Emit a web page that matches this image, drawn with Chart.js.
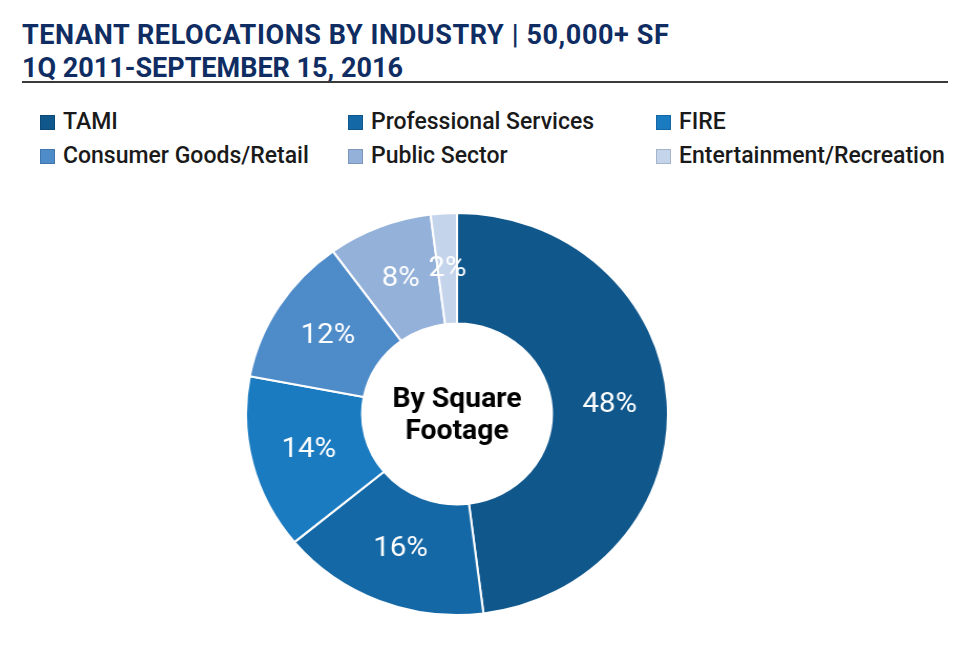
<!DOCTYPE html>
<html>
<head>
<meta charset="utf-8">
<script src="https://cdn.jsdelivr.net/npm/chart.js@4"></script>
<style>
    body { margin: 0; background: #fff; width: 960px; height: 653px; position: relative; overflow: hidden; font-family: Roboto, "Noto Sans", sans-serif; }
    .titulo { position: absolute; left: 22px; color: #0f2d62; font-weight: bold; font-size: 27px; line-height: 30px; white-space: nowrap; }
    .linha { position: absolute; left: 22px; top: 81px; width: 926px; height: 2px; background: #3a3a3a; }
    .item { position: absolute; font-size: 23px; font-weight: 500; color: #1a1a1a; white-space: nowrap; line-height: 23px; }
    .item span { display: inline-block; width: 15px; height: 15px; vertical-align: -1px; margin-right: 8px; box-sizing: border-box; }
</style>
</head>
<body>
<div class="titulo" style="top:20px;letter-spacing:0.6px">TENANT RELOCATIONS BY INDUSTRY | 50,000+ SF</div>
<div class="titulo" style="top:53px">1Q 2011-SEPTEMBER 15, 2016</div>
<div class="linha"></div>
<div id="legenda"></div>
<canvas id="rosca" width="404" height="404" style="position:absolute;left:244.5px;top:212px;width:424px;height:404px"></canvas>

<script>
// dados do grafico
var setores = ['TAMI', 'Professional Services', 'FIRE', 'Consumer Goods/Retail', 'Public Sector', 'Entertainment/Recreation'];
var percentuais = [48, 16, 14, 12, 8, 2];
var cores = ['#10578c', '#1568a6', '#1b7bc1', '#4e8bc9', '#93b1d9', '#c4d4eb'];
var textoCentro = ['By Square', 'Footage'];

// legenda em 3 colunas
var colunas = [40, 348, 656];
var linhas = [110, 144];
var divLegenda = document.getElementById('legenda');
for (var i = 0; i < setores.length; i++) {
    var el = document.createElement('div');
    el.className = 'item';
    el.style.left = colunas[i % 3] + 'px';
    el.style.top = linhas[Math.floor(i / 3)] + 'px';
    el.innerHTML = '<span style="background:' + cores[i] + ';border:1px solid rgba(0,0,0,0.15)"></span>' + setores[i];
    divLegenda.appendChild(el);
}

var rotulos = {
    id: 'rotulos',
    afterDatasetsDraw: function (chart) {
        var ctx = chart.ctx;
        var meta = chart.getDatasetMeta(0);
        ctx.save();
        ctx.fillStyle = '#ffffff';
        ctx.font = '28px Roboto';
        ctx.textAlign = 'center';
        ctx.textBaseline = 'middle';
        meta.data.forEach(function (arco, i) {
            var p = arco.tooltipPosition();
            ctx.fillText(percentuais[i] + '%', p.x, p.y);
        });

        var cx = (chart.chartArea.left + chart.chartArea.right) / 2;
        var cy = (chart.chartArea.top + chart.chartArea.bottom) / 2;
        ctx.fillStyle = '#000000';
        ctx.font = 'bold 27px Roboto';
        ctx.fillText(textoCentro[0], cx, cy - 14);
        ctx.fillText(textoCentro[1], cx, cy + 18);
        ctx.restore();
    }
};

var grafico = new Chart(document.getElementById('rosca').getContext('2d'), {
    type: 'doughnut',
    data: {
        labels: setores,
        datasets: [{
            data: percentuais,
            backgroundColor: cores,
            borderColor: '#ffffff',
            borderWidth: 2
        }]
    },
    options: {
        responsive: false,
        animation: false,
        cutout: '45%',
        layout: { padding: 0 },
        plugins: {
            legend: { display: false },
            tooltip: { enabled: false }
        }
    },
    plugins: [rotulos]
});
</script>
</body>
</html>
